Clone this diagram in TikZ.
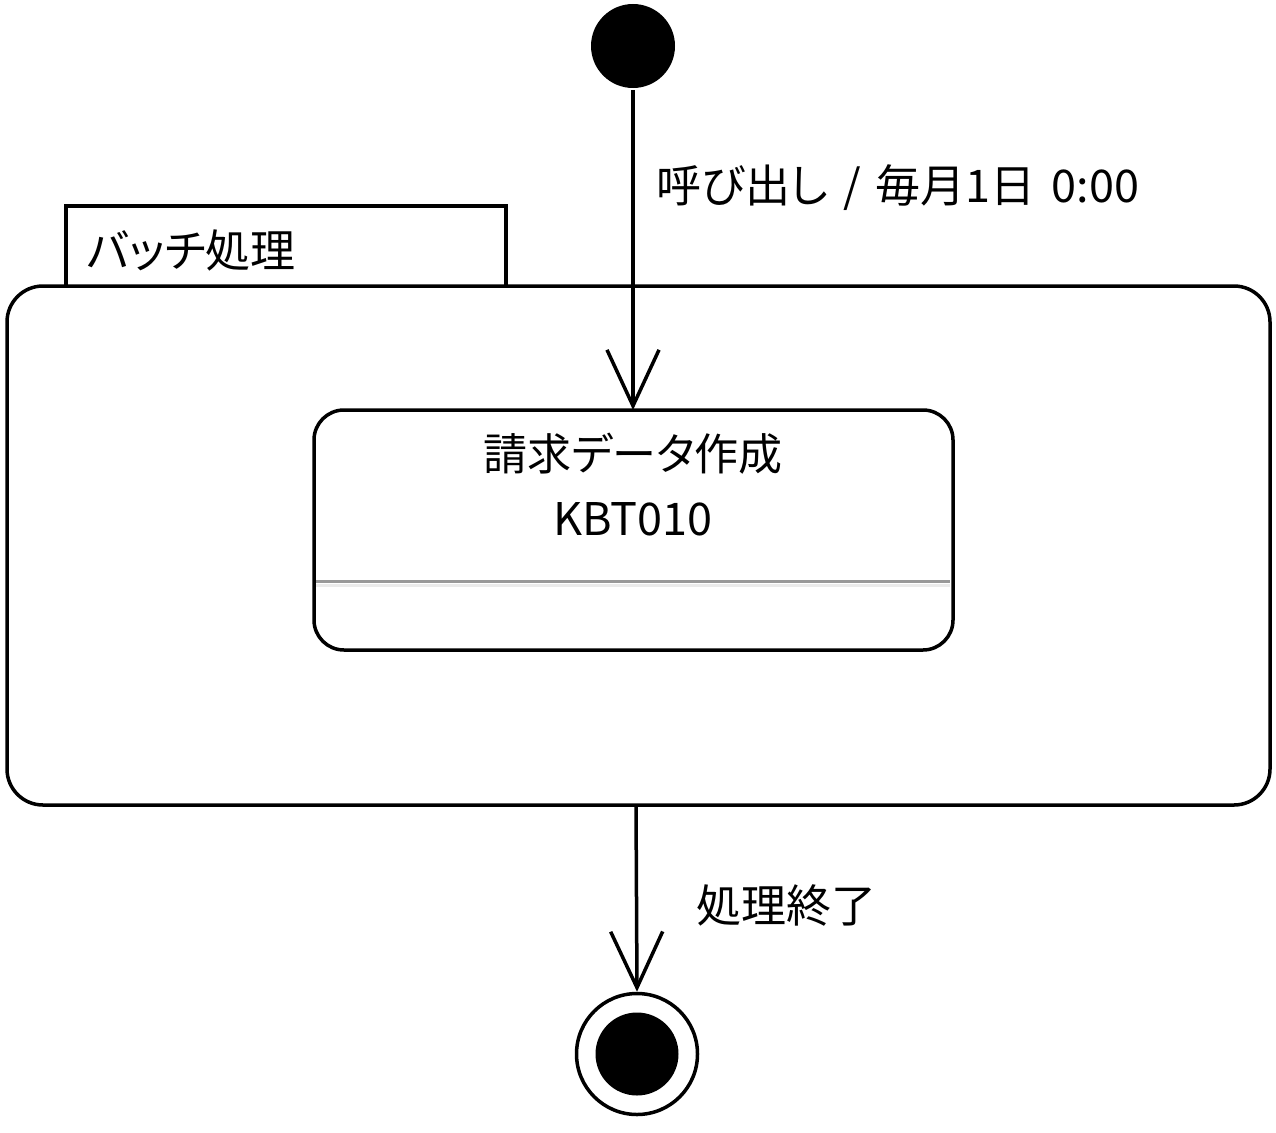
\documentclass[tikz,border=0pt]{standalone}
\usepackage{fontspec}
\setmainfont{Noto Sans CJK JP}[RawFeature=+palt]
\usetikzlibrary{arrows.meta}
\begin{document}
\begin{tikzpicture}[x=1pt,y=-1pt,line width=3.5pt,
  txt/.style={font=\fontsize{45}{54}\selectfont,inner sep=0pt},
  varrow/.style={-{Straight Barb[length=56pt,width=52pt,line width=3.5pt]}},
  ]
\useasboundingbox (0,0) rectangle (1276,1132);
% initial
\node[circle,fill=black,minimum size=84pt,inner sep=0pt] (init) at (633,46) {};
% composite
\draw[rounded corners=36pt] (7,286) rectangle (1270,805);
\coordinate (comptop) at (633,286);
\coordinate (compbot) at (636,805);
\draw (66,286) -- (66,206) -- (506,206) -- (506,286);
\node[txt,anchor=base west] (comp) at (85,267) {バッチ処理};
% inner state
\draw[rounded corners=30pt] (314,410) rectangle (953,650);
\node[txt,font=\fontsize{44}{52}\selectfont,anchor=base] (st1) at (633,470) {請求データ作成};
\node[txt,anchor=base] (st2) at (633,535) {KBT010};
\draw[line width=3pt,black!40] (316,581) -- (950,581);
\draw[line width=3pt,black!8] (316,585) -- (950,585);
\coordinate (sttop) at (633,410);
% final
\node[circle,draw,minimum size=121pt,inner sep=0pt] (fin) at (637,1054) {};
\node[circle,fill=black,minimum size=83pt,inner sep=0pt] at (fin) {};
% arrows
\draw[varrow] (init.south) -- (sttop);
\draw[varrow] (compbot) -- (fin.north);
\node[txt,anchor=base west] (lab1) at (655,202) {呼び出し\hspace{15pt}/\hspace{15pt}毎月1日\hspace{16pt}0:00};
\node[txt,anchor=base west] (lab2) at (695,922) {処理終了};
\end{tikzpicture}
\end{document}
